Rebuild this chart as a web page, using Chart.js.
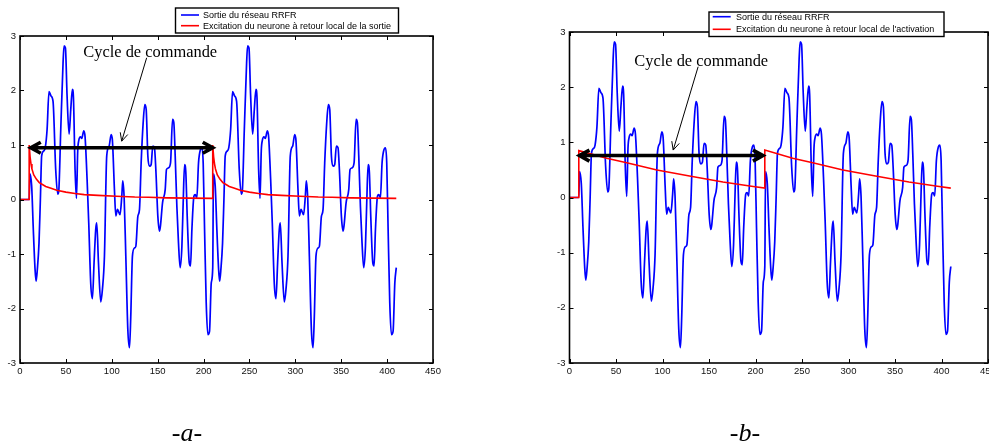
<!DOCTYPE html>
<html>
<head>
<meta charset="utf-8">
<title>Sortie du réseau RRFR</title>
<script src="https://cdn.jsdelivr.net/npm/chart.js@4.4.1/dist/chart.umd.min.js"></script>
<style>
  html, body { margin: 0; padding: 0; background: #fff; }
  body { width: 989px; height: 448px; position: relative; overflow: hidden; }
  canvas { position: absolute; top: 0; }
  #chartA { left: 0; }
  #chartB { left: 540px; }
  .caption {
    position: absolute; top: 420px; width: 80px; text-align: center;
    font-family: 'Liberation Serif', 'Times New Roman', serif;
    font-style: italic; font-size: 26px; line-height: 26px; color: #000;
  }
</style>
</head>
<body>
<canvas id="chartA" width="480" height="448"></canvas>
<canvas id="chartB" width="480" height="448"></canvas>
<div class="caption" style="left:147px">-a-</div>
<div class="caption" style="left:705px">-b-</div>

<script>
// ---- Series data ----------------------------------------------------------
// Network output: first control cycle (samples 0 .. 210)
const sortieX1 = [0,10,10.8,12.7,14.5,16.4,17.5,18.9,20.7,22.2,23.6,25.8,27.5,29.5,31.6,33.8,36,38.9,41.1,42.2,
  44.4,46.9,48,49.5,51.3,53.5,55.3,57.1,58.2,60,61.5,62.9,64,65.8,67.3,69.5,70.9,73.1,74.9,77.1,
  78.9,80.7,82.5,83.6,85.5,88,89.8,92,94.5,97.1,99.3,100.7,102.9,104.4,106.2,107.3,109,110.9,112,113.5,
  115.3,117.5,119.3,120.7,122.5,124.7,126.2,128.4,130.2,132,134.2,136,137.5,139.3,141.1,142.9,144.7,146.5,148,150.2,
  152,153,155.3,158.2,159.6,161.8,164,166.2,167.6,169.1,170.9,172.7,174.5,176.4,177.8,179.3,180.7,182.2,184.4,185.8,
  187.3,189.5,190.9,192.7,194.5,196.7,198.2,199.6,201.1,202.9,204.7,206.5,208.4,210];
const sortieY1 = [0,0,0.47,0.25,-0.55,-1.28,-1.5,-1.28,-0.8,0,0.8,0.89,0.95,1.28,1.98,1.9,1.8,0.55,0.1,0.15,
  1.28,2.5,2.82,2.78,1.9,1.2,1.65,2.02,1.88,0.55,0.02,0.9,1.08,1.15,1.12,1.26,1.15,0.37,-0.43,-1.55,
  -1.82,-1.16,-0.55,-0.43,-1.16,-1.88,-1.65,-1.04,0.8,0.98,1.19,1.08,0.18,-0.3,-0.18,-0.22,-0.28,0.06,0.34,0.02,
  -1.04,-2.39,-2.72,-2.14,-1.04,-0.89,-0.86,-0.31,-0.18,0.67,1.41,1.74,1.65,0.8,0.61,0.64,0.98,0.95,0.55,-0.31,
  -0.58,-0.49,-0.06,0.18,0.55,0.58,0.67,1.47,1.41,0.8,-0.12,-0.8,-1.25,-0.86,-0.06,0.64,0.49,-0.31,-1.16,-1.22,
  -0.55,0.06,0.09,0.03,0.67,0.92,0.95,0.67,-0.55,-1.9,-2.48,-2.42,-1.53,-1.25];

// Network output: second control cycle (samples 210 .. 410)
const sortieX2 = [210.8,212.7,214.5,216.4,217.5,218.9,220.7,222.2,223.6,225.8,227.5,229.5,231.6,233.8,236,238.9,241.1,242.2,
  244.4,246.9,248,249.5,251.3,253.5,255.3,257.1,258.2,260,261.5,262.9,264,265.8,267.3,269.5,270.9,273.1,274.9,277.1,
  278.9,280.7,282.5,283.6,285.5,288,289.8,292,294.5,297.1,299.3,300.7,302.9,304.4,306.2,307.3,309,310.9,312,313.5,
  315.3,317.5,319.3,320.7,322.5,324.7,326.2,328.4,330.2,332,334.2,336,337.5,339.3,341.1,342.9,344.7,346.5,348,350.2,
  352,353,355.3,358.2,359.6,361.8,364,366.2,367.6,369.1,370.9,372.7,374.5,376.4,377.8,379.3,380.7,382.2,384.4,385.8,
  387.3,389.5,390.9,392.7,394.5,396.7,398.2,399.6,401.1,402.9,404.7,406.5,408.4,410];
const sortieY2 = [0.47,0.25,-0.55,-1.28,-1.5,-1.28,-0.8,0,0.8,0.89,0.95,1.28,1.98,1.9,1.8,0.55,0.1,0.15,
  1.28,2.5,2.82,2.78,1.9,1.2,1.65,2.02,1.88,0.55,0.02,0.9,1.08,1.15,1.12,1.26,1.15,0.37,-0.43,-1.55,
  -1.82,-1.16,-0.55,-0.43,-1.16,-1.88,-1.65,-1.04,0.8,0.98,1.19,1.08,0.18,-0.3,-0.18,-0.22,-0.28,0.06,0.34,0.02,
  -1.04,-2.39,-2.72,-2.14,-1.04,-0.89,-0.86,-0.31,-0.18,0.67,1.41,1.74,1.65,0.8,0.61,0.64,0.98,0.95,0.55,-0.31,
  -0.58,-0.49,-0.06,0.18,0.55,0.58,0.67,1.47,1.41,0.8,-0.12,-0.8,-1.25,-0.86,-0.06,0.64,0.49,-0.31,-1.16,-1.22,
  -0.55,0.06,0.09,0.03,0.67,0.92,0.95,0.67,-0.55,-1.9,-2.48,-2.42,-1.53,-1.25];

// Excitation with local output feedback (chart a)
const excitSortieX = [0,10,10,11,12,13,15,18,21,24,28,33,40,50,60,70,85,105,125,140,160,185,210,
  210,211,212,213,215,218,221,224,228,233,240,250,260,270,285,305,325,340,360,385,410];
const excitSortieY = [0,0,1,0.78,0.65,0.56,0.45,0.37,0.31,0.28,0.24,0.21,0.17,0.135,0.11,0.09,0.075,0.06,0.045,0.04,0.03,0.025,0.02,
  1,0.78,0.65,0.56,0.45,0.37,0.31,0.28,0.24,0.21,0.17,0.135,0.11,0.09,0.075,0.06,0.045,0.04,0.03,0.025,0.02];

// Excitation with local activation feedback (chart b)
const excitActivX = [0,10,10,40,61.5,94,129,165,197.5,210,210,240,261.5,294,329,365,397.5,410];
const excitActivY = [0,0,0.85,0.71,0.63,0.5,0.39,0.28,0.2,0.17,0.86,0.71,0.63,0.5,0.39,0.28,0.2,0.17];

// Axis ticks
const xTickValues = [0,50,100,150,200,250,300,350,400,450];
const yTickValues = [-3,-2,-1,0,1,2,3];

// Labels
const labelSortie = 'Sortie du réseau RRFR';
const labelExcitA = 'Excitation du neurone à retour local de la sortie';
const labelExcitB = "Excitation du neurone à retour local de l'activation";
const annotationText = 'Cycle de commande';

// ---- Helpers ---------------------------------------------------------------
const toPoints = (xs, ys) => xs.map((x, i) => ({ x, y: ys[i] }));
const sortieX = sortieX1.concat(sortieX2);
const sortieY = sortieY1.concat(sortieY2);

const tickFont = { family: "'Liberation Sans Narrow', 'Arial Narrow', 'Liberation Sans', Arial, sans-serif", size: 9.5 };

// Box around the plot area with inward tick marks on all four sides
const framePlugin = {
  id: 'frame',
  afterDatasetsDraw(chart) {
    const { ctx, chartArea: a, scales: { x, y } } = chart;
    const L = 4;
    ctx.save();
    ctx.strokeStyle = '#000';
    ctx.lineWidth = 1;
    ctx.beginPath();
    xTickValues.forEach(v => {
      const px = Math.round(x.getPixelForValue(v)) + 0.5;
      ctx.moveTo(px, a.bottom); ctx.lineTo(px, a.bottom - L);
      ctx.moveTo(px, a.top); ctx.lineTo(px, a.top + L);
    });
    yTickValues.forEach(v => {
      const py = Math.round(y.getPixelForValue(v)) + 0.5;
      ctx.moveTo(a.left, py); ctx.lineTo(a.left + L, py);
      ctx.moveTo(a.right, py); ctx.lineTo(a.right - L, py);
    });
    ctx.stroke();
    ctx.lineWidth = 1.6;
    ctx.strokeRect(a.left, a.top, a.right - a.left, a.bottom - a.top);
    ctx.restore();
  }
};

// "Cycle de commande" label, its pointer and the double-headed span arrow
const cyclePlugin = {
  id: 'cycle',
  afterDatasetsDraw(chart, args, o) {
    const { ctx, scales: { x, y } } = chart;
    const X = v => x.getPixelForValue(v), Y = v => y.getPixelForValue(v);
    ctx.save();
    // text
    ctx.fillStyle = '#000';
    ctx.font = "16.4px 'Liberation Serif', 'Times New Roman', serif";
    ctx.textAlign = 'left';
    ctx.textBaseline = 'alphabetic';
    ctx.fillText(annotationText, X(o.textX), Y(o.textY));
    // thin pointer with open head
    const x1 = X(o.pointer[0]), y1 = Y(o.pointer[1]), x2 = X(o.pointer[2]), y2 = Y(o.pointer[3]);
    ctx.strokeStyle = '#000';
    ctx.lineWidth = 1;
    ctx.beginPath();
    ctx.moveTo(x1, y1); ctx.lineTo(x2, y2);
    const ang = Math.atan2(y2 - y1, x2 - x1), h = 9, s = 0.45;
    ctx.moveTo(x2 - h * Math.cos(ang - s), y2 - h * Math.sin(ang - s));
    ctx.lineTo(x2, y2);
    ctx.lineTo(x2 - h * Math.cos(ang + s), y2 - h * Math.sin(ang + s));
    ctx.stroke();
    // thick double arrow spanning one cycle
    const xa = X(o.span[0]), xb = X(o.span[1]), ys = Y(o.span[2]);
    ctx.lineWidth = 3.6;
    ctx.lineJoin = 'miter';
    ctx.lineCap = 'butt';
    ctx.beginPath();
    ctx.moveTo(xa + 2, ys); ctx.lineTo(xb - 2, ys);
    ctx.moveTo(xa + 10, ys - 5.5); ctx.lineTo(xa, ys); ctx.lineTo(xa + 10, ys + 5.5);
    ctx.moveTo(xb - 10, ys - 5.5); ctx.lineTo(xb, ys); ctx.lineTo(xb - 10, ys + 5.5);
    ctx.stroke();
    ctx.restore();
  }
};

// Boxed legend drawn over the plot frame
const boxLegendPlugin = {
  id: 'boxLegend',
  afterDraw(chart, args, o) {
    const { ctx } = chart;
    ctx.save();
    ctx.fillStyle = '#fff';
    ctx.fillRect(o.x, o.y, o.w, o.h);
    ctx.strokeStyle = '#000';
    ctx.lineWidth = 1.4;
    ctx.strokeRect(o.x, o.y, o.w, o.h);
    ctx.font = "9px 'Liberation Sans', Arial, sans-serif";
    ctx.textBaseline = 'middle';
    ctx.textAlign = 'left';
    const order = [1, 0];
    order.forEach((di, row) => {
      const ds = chart.data.datasets[di];
      const ry = o.rows[row];
      ctx.strokeStyle = ds.borderColor;
      ctx.lineWidth = 1.6;
      ctx.beginPath();
      ctx.moveTo(o.sample[0], ry); ctx.lineTo(o.sample[1], ry);
      ctx.stroke();
      ctx.fillStyle = '#000';
      ctx.fillText(ds.label, o.textX, ry + 0.5);
    });
    ctx.restore();
  }
};

function makeChart(id, excitLabel, ex, ey, cfg) {
  return new Chart(document.getElementById(id), {
    type: 'line',
    data: {
      datasets: [
        {
          label: excitLabel,
          data: toPoints(ex, ey),
          borderColor: '#ff0000',
          borderWidth: 1.6,
          pointRadius: 0,
          tension: 0,
          order: 0
        },
        {
          label: labelSortie,
          data: toPoints(sortieX, sortieY),
          borderColor: '#0000ff',
          borderWidth: 1.7,
          pointRadius: 0,
          cubicInterpolationMode: 'monotone',
          order: 1
        }
      ]
    },
    options: {
      responsive: false,
      animation: false,
      events: [],
      layout: { padding: cfg.padding },
      plugins: {
        legend: { display: false },
        tooltip: { enabled: false },
        cycle: cfg.cycle,
        boxLegend: cfg.legend
      },
      scales: {
        x: {
          type: 'linear', min: 0, max: 450,
          afterBuildTicks: s => { s.ticks = xTickValues.map(v => ({ value: v })); },
          afterFit: s => { s.height = 20; },
          grid: { display: false, drawTicks: false },
          border: { display: false },
          ticks: { font: tickFont, color: '#111', padding: 3, maxRotation: 0, autoSkip: false }
        },
        y: {
          type: 'linear', min: -3, max: 3,
          afterBuildTicks: s => { s.ticks = yTickValues.map(v => ({ value: v })); },
          afterFit: s => { s.width = cfg.yWidth; },
          grid: { display: false, drawTicks: false },
          border: { display: false },
          ticks: { font: tickFont, color: '#111', padding: 4, autoSkip: false }
        }
      }
    },
    plugins: [framePlugin, cyclePlugin, boxLegendPlugin]
  });
}

makeChart('chartA', labelExcitA, excitSortieX, excitSortieY, {
  padding: { left: 0, right: 47, top: 36, bottom: 65 },
  yWidth: 20,
  cycle: { textX: 69, textY: 2.62, pointer: [138, 2.6, 110.8, 1.07], span: [11.7, 210, 0.95] },
  legend: { x: 175.5, y: 8, w: 223, h: 25, rows: [15, 25.7], sample: [181, 199], textX: 203 }
});

// the right-hand plot runs to the page edge; its canvas extends past it
makeChart('chartB', labelExcitB, excitActivX, excitActivY, {
  padding: { left: 0, right: 32, top: 32, bottom: 65 },
  yWidth: 29.5,
  cycle: { textX: 69.7, textY: 2.38, pointer: [138.3, 2.37, 111.5, 0.86], span: [10.7, 208, 0.76] },
  legend: { x: 169, y: 12, w: 235, h: 24.5, rows: [16.7, 29.3], sample: [172.7, 190.7], textX: 196 }
});
</script>
</body>
</html>
